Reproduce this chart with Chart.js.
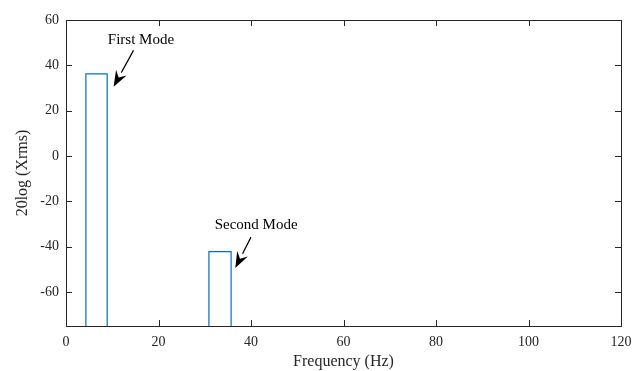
<!DOCTYPE html>
<html>
<head>
<meta charset="utf-8">
<script src="https://cdn.jsdelivr.net/npm/chart.js@4.4.1/dist/chart.umd.min.js"></script>
<style>
  html,body{margin:0;padding:0;background:#fff;}
  #wrap{width:632px;height:371px;}
</style>
</head>
<body>
<div id="wrap"><canvas id="chart" width="632" height="371"></canvas></div>
<script>
// mode bands (Hz) and their level (dB)
const modeNames = ["First Mode", "Second Mode"];
const modeStart = [4.3, 30.9];
const modeEnd   = [8.9, 35.7];
const modeLevel = [36.2, -42.2];

// annotation label / arrow positions in data units
const labelPos  = [[16.2, 51.3], [41.1, -30.6]];
const arrowFrom = [[14.6, 46.6], [40.0, -35.8]];
const arrowTo   = [[10.3, 30.6], [36.6, -49.4]];

const xTicks = [0, 20, 40, 60, 80, 100, 120];
const yTicks = [-60, -40, -20, 0, 20, 40, 60];
const xMin = 0, xMax = 120, yMin = -75, yMax = 60;

const blue = "#0072BD";
const serif = "'Liberation Serif', 'Times New Roman', serif";

const datasets = modeStart.map((s,i)=>({
  label: modeNames[i],
  data: [
    {x:s, y:yMin},
    {x:s, y:modeLevel[i]},
    {x:modeEnd[i], y:modeLevel[i]},
    {x:modeEnd[i], y:yMin}
  ],
  showLine: true,
  borderColor: blue,
  borderWidth: 1.2,
  pointRadius: 0,
  fill: false,
  tension: 0
}));

// box, inward ticks and annotations
const matlabAxes = {
  id: "matlabAxes",
  afterDatasetsDraw(chart){
    const {ctx, chartArea:a, scales:{x, y}} = chart;
    ctx.save();
    ctx.strokeStyle = "#262626";
    ctx.lineWidth = 1;
    ctx.strokeRect(a.left+0.5, a.top+0.5, a.right-a.left, a.bottom-a.top);
    ctx.beginPath();
    xTicks.forEach(v=>{
      const px = Math.round(x.getPixelForValue(v))+0.5;
      ctx.moveTo(px, a.bottom); ctx.lineTo(px, a.bottom-6);
      ctx.moveTo(px, a.top); ctx.lineTo(px, a.top+6);
    });
    yTicks.forEach(v=>{
      const py = Math.round(y.getPixelForValue(v))+0.5;
      ctx.moveTo(a.left, py); ctx.lineTo(a.left+6, py);
      ctx.moveTo(a.right, py); ctx.lineTo(a.right-6, py);
    });
    ctx.stroke();

    // annotations
    ctx.fillStyle = "#000";
    ctx.strokeStyle = "#000";
    ctx.font = "15px " + serif;
    ctx.textAlign = "center";
    ctx.textBaseline = "middle";
    modeNames.forEach((n,i)=>{
      ctx.fillText(n, x.getPixelForValue(labelPos[i][0]), y.getPixelForValue(labelPos[i][1]));
      const x0 = x.getPixelForValue(arrowFrom[i][0]), y0 = y.getPixelForValue(arrowFrom[i][1]);
      const x1 = x.getPixelForValue(arrowTo[i][0]),   y1 = y.getPixelForValue(arrowTo[i][1]);
      const ang = Math.atan2(y1-y0, x1-x0);
      const hl = 16, hw = 6;
      const bx = x1 - hl*Math.cos(ang), by = y1 - hl*Math.sin(ang);
      ctx.lineWidth = 1.2;
      ctx.beginPath(); ctx.moveTo(x0,y0); ctx.lineTo(bx,by); ctx.stroke();
      ctx.beginPath();
      ctx.moveTo(x1,y1);
      ctx.lineTo(bx + hw*Math.sin(ang), by - hw*Math.cos(ang));
      ctx.lineTo(x1 - (hl*0.65)*Math.cos(ang), y1 - (hl*0.65)*Math.sin(ang));
      ctx.lineTo(bx - hw*Math.sin(ang), by + hw*Math.cos(ang));
      ctx.closePath();
      ctx.fill();
    });
    ctx.restore();
  }
};

new Chart(document.getElementById("chart"), {
  type: "scatter",
  data: { datasets },
  plugins: [matlabAxes],
  options: {
    responsive: false,
    animation: false,
    layout: { padding: { left: 0, right: 11, top: 20, bottom: 0 } },
    plugins: { legend: { display: false }, tooltip: { enabled: false } },
    scales: {
      x: {
        type: "linear", min: xMin, max: xMax,
        afterBuildTicks: s => { s.ticks = xTicks.map(v=>({value:v})); },
        afterFit: s => { s.height = 45; s.paddingLeft = 0; s.paddingRight = 0; },
        grid: { display: false, drawTicks: false },
        border: { display: false },
        ticks: { color: "#262626", font: { family: serif, size: 14 }, padding: 8, maxRotation: 0 },
        title: { display: true, text: "Frequency (Hz)", color: "#262626",
                 font: { family: serif, size: 16 }, padding: { top: 2, bottom: 0 } }
      },
      y: {
        type: "linear", min: yMin, max: yMax,
        afterBuildTicks: s => { s.ticks = yTicks.map(v=>({value:v})); },
        afterFit: s => { s.width = 66; s.paddingTop = 0; s.paddingBottom = 0; },
        grid: { display: false, drawTicks: false },
        border: { display: false },
        ticks: { color: "#262626", font: { family: serif, size: 14 }, padding: 7 },
        title: { display: true, text: "20log (Xrms)", color: "#262626",
                 font: { family: serif, size: 16 }, padding: { top: 13, bottom: 0 } }
      }
    }
  }
});
</script>
</body>
</html>
